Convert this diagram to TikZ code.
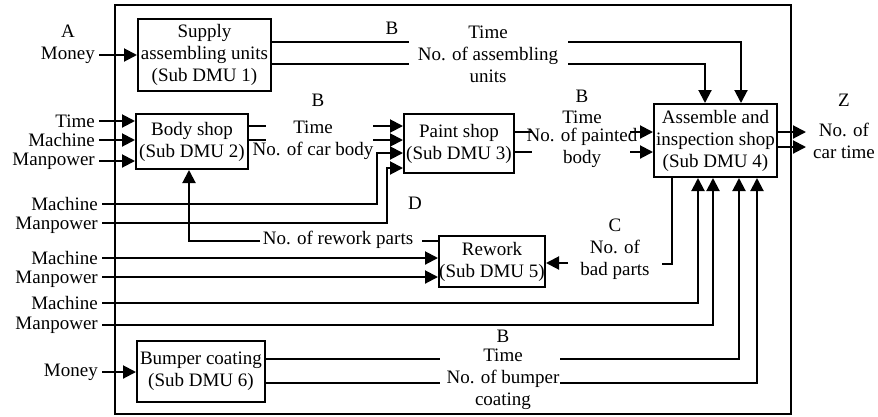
\documentclass[tikz,border=0pt]{standalone}
\usepackage{fontspec}
\setmainfont{Liberation Serif}
\usetikzlibrary{arrows.meta}
\begin{document}
\begin{tikzpicture}[x=1pt,y=-1pt,
  every node/.style={font=\fontsize{19}{22}\selectfont, inner sep=0pt, align=center},
  dmu/.style={draw, line width=2pt},
  wire/.style={line width=2pt},
  arr/.style={wire, -{Triangle[length=13pt,width=13pt]}},
  lab/.style={anchor=east, inner xsep=4pt, align=right},
]
\useasboundingbox (0,0) rectangle (878,416);
% frame
\node[dmu, minimum width=676pt, minimum height=409pt] (frame) at (453,209.5) {};
% boxes
\node[dmu, minimum width=133pt, minimum height=72pt] (b1) at (204.5,55) {Supply\\assembling units\\(Sub DMU 1)};
\node[dmu, minimum width=112pt, minimum height=55pt] (b2) at (192,141.5) {Body shop\\(Sub DMU 2)};
\node[dmu, minimum width=110pt, minimum height=59pt] (b3) at (459,143.5) {Paint shop\\(Sub DMU 3)};
\node[dmu, minimum width=123pt, minimum height=73pt] (b4) at (715.5,140.5) {Assemble and\\inspection shop\\(Sub DMU 4)};
\node[dmu, minimum width=106pt, minimum height=51pt] (b5) at (492,261.5) {Rework\\(Sub DMU 5)};
\node[dmu, minimum width=128pt, minimum height=61pt] (b6) at (201,371.5) {Bumper coating\\(Sub DMU 6)};
% left labels
\node (A) at (68,31) {A};
\node[lab] (mo1) at (99,55) {Money};
\node[lab] (ti2) at (99,121) {Time};
\node[lab] (ma2) at (99,140) {Machine};
\node[lab] (mp2) at (99,161) {Manpower};
\node[lab] (mm3) at (102,215.5) {Machine\\[-3pt]Manpower};
\node[lab] (mm5) at (102,269.5) {Machine\\[-3pt]Manpower};
\node[lab] (ma4) at (102,303) {Machine};
\node[lab] (mp4) at (102,325) {Manpower};
\node[lab] (mo6) at (102,372) {Money};
% inner labels
\node (B1) at (392,28) {B};
\node (t1) at (488,54) {Time\\No. of assembling\\units};
\node (B2) at (318,100) {B};
\node (t2) at (313,140) {Time\\No. of car body};
\node (B3) at (582,96) {B};
\node (t3) at (582,139) {Time\\[-4pt]No. of painted\\body};
\node (Z) at (844,100) {Z};
\node (tz) at (844,141) {No. of\\car time};
\node (D) at (415,203) {D};
\node (rw) at (338,240) {No. of rework parts};
\node (tc) at (615,249) {C\\No. of\\bad parts};
\node (t6) at (503,369.5) {B\\[-3pt]Time\\No. of bumper\\coating};
% coordinates
\coordinate (s3a) at (102,204);
\coordinate (s3b) at (102,223);
\coordinate (s5a) at (102,258);
\coordinate (s5b) at (102,277);
\coordinate (k3a) at (377,153);
\coordinate (k3b) at (387,168);
\coordinate (x698) at (698,0);
\coordinate (x713) at (713,0);
\coordinate (x705) at (705,0);
\coordinate (x741) at (741,0);
\coordinate (x739) at (739,0);
\coordinate (x757) at (757,0);
\coordinate (x672) at (672,0);
\coordinate (x189) at (189,0);
\coordinate (o1a) at (409,42);
\coordinate (o1b) at (409,64);
\coordinate (i4a) at (568,42);
\coordinate (i4b) at (568,64);
\coordinate (o2a) at (266,126);
\coordinate (o2b) at (266,140);
\coordinate (i3a) at (373,126);
\coordinate (i3b) at (373,140);
\coordinate (o3a) at (532,132);
\coordinate (o3b) at (532,152);
\coordinate (i4c) at (630,132);
\coordinate (i4d) at (630,152);
\coordinate (z1) at (806,132);
\coordinate (z2) at (806,147);
\coordinate (rwR) at (422,241);
\coordinate (rwL) at (260,241);
\coordinate (c1) at (568,263);
\coordinate (c2) at (662,264);
\coordinate (o6a) at (440,359);
\coordinate (o6b) at (440,383);
\coordinate (i6a) at (560,359);
\coordinate (i6b) at (560,383);
% inputs
\draw[arr] (mo1.east) -- (b1.west |- mo1.east);
\draw[arr] (ti2.east) -- (b2.west |- ti2.east);
\draw[arr] (ma2.east) -- (b2.west |- ma2.east);
\draw[arr] (mp2.east) -- (b2.west |- mp2.east);
\draw[arr] (s3a) -| (k3a) -- (b3.west |- k3a);
\draw[arr] (s3b) -| (k3b) -- (b3.west |- k3b);
\draw[arr] (s5a) -- (b5.west |- s5a);
\draw[arr] (s5b) -- (b5.west |- s5b);
\draw[arr] (ma4.east) -| (b4.south -| x698);
\draw[arr] (mp4.east) -| (b4.south -| x713);
\draw[arr] (mo6.east) -- (b6.west |- mo6.east);
% box 1 outputs
\draw[wire] (b1.east |- o1a) -- (o1a);
\draw[wire] (b1.east |- o1b) -- (o1b);
\draw[arr] (i4a) -| (b4.north -| x741);
\draw[arr] (i4b) -| (b4.north -| x705);
% box 2 outputs
\draw[wire] (b2.east |- o2a) -- (o2a);
\draw[wire] (b2.east |- o2b) -- (o2b);
\draw[arr] (i3a) -- (b3.west |- i3a);
\draw[arr] (i3b) -- (b3.west |- i3b);
% box 3 outputs
\draw[wire] (b3.east |- o3a) -- (o3a);
\draw[wire] (b3.east |- o3b) -- (o3b);
\draw[arr] (i4c) -- (b4.west |- i4c);
\draw[arr] (i4d) -- (b4.west |- i4d);
% box 4 outputs
\draw[arr] (b4.east |- z1) -- (z1);
\draw[arr] (b4.east |- z2) -- (z2);
\draw[wire] (b4.south -| x672) |- (c2);
\draw[arr] (c1) -- (b5.east |- c1);
% rework
\draw[wire] (b5.west |- rwR) -- (rwR);
\draw[arr] (rwL) -| (b2.south -| x189);
% box 6 outputs
\draw[wire] (b6.east |- o6a) -- (o6a);
\draw[wire] (b6.east |- o6b) -- (o6b);
\draw[arr] (i6a) -| (b4.south -| x739);
\draw[arr] (i6b) -| (b4.south -| x757);
\end{tikzpicture}
\end{document}
